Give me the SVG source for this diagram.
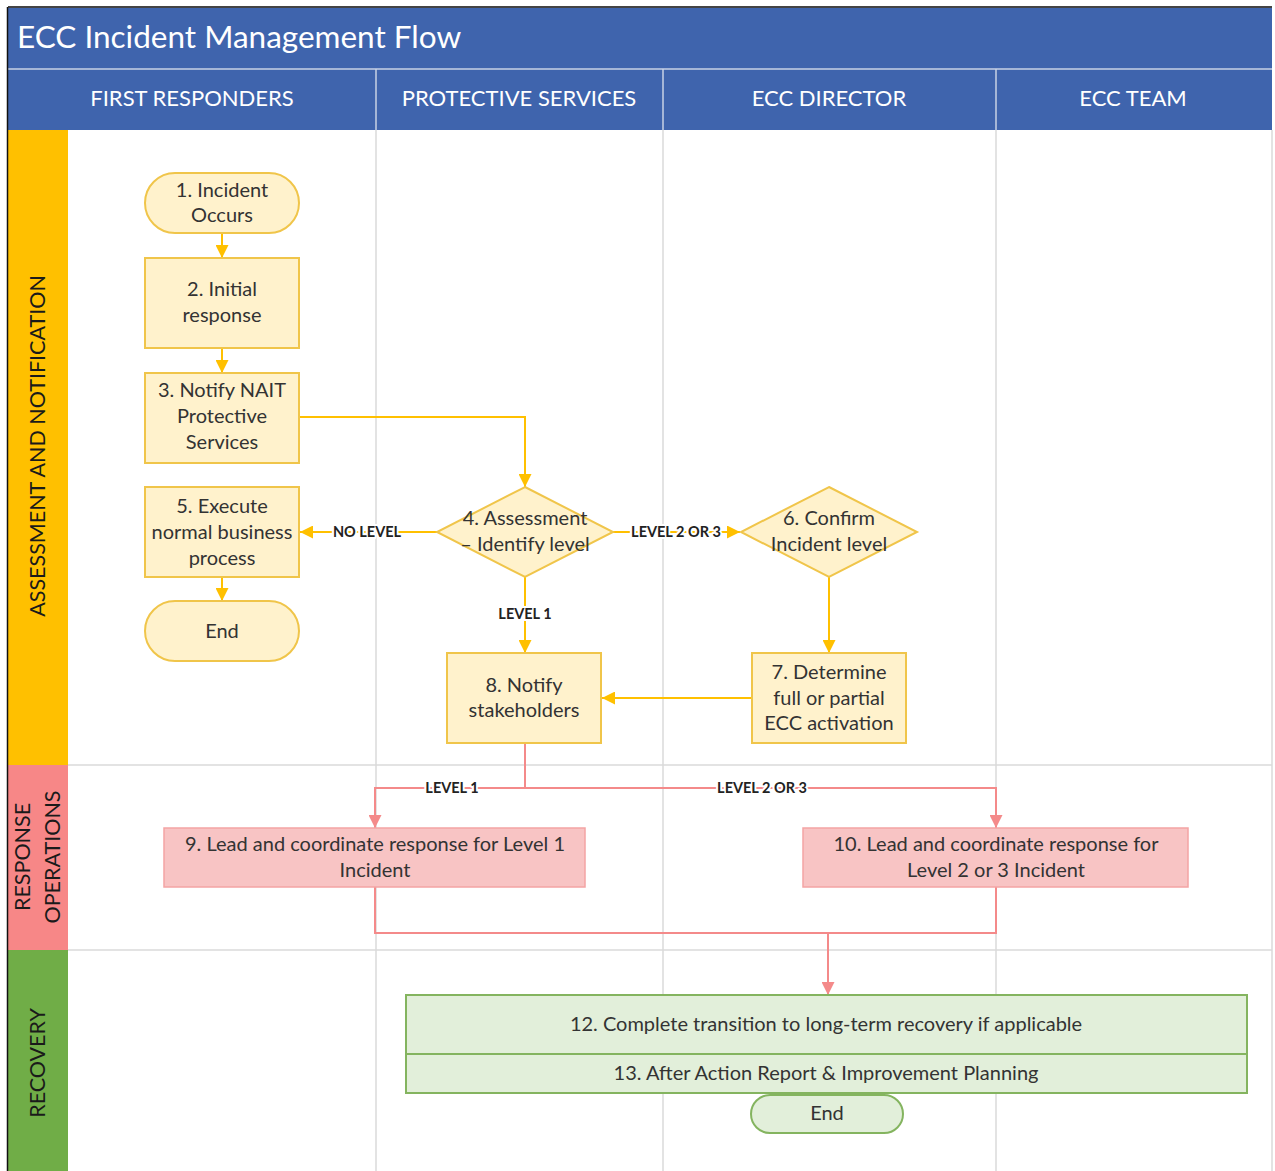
<svg xmlns="http://www.w3.org/2000/svg" width="1275" height="1171" viewBox="0 0 1275 1171">
<style>
  .t{font-family:Lato,"Liberation Sans",sans-serif;font-size:20px;fill:#333;text-anchor:middle}
  .h{font-family:Lato,"Liberation Sans",sans-serif;font-size:22px;fill:#fff;text-anchor:middle}
  .lane{font-family:Lato,"Liberation Sans",sans-serif;font-size:21.5px;fill:#1a1a1a;text-anchor:middle}
  .lbl{font-family:Lato,"Liberation Sans",sans-serif;font-size:14.5px;font-weight:bold;fill:#222;text-anchor:middle;stroke:#fff;stroke-width:4px;paint-order:stroke;stroke-linejoin:round}
  .y{fill:#FFF2CC;stroke:#F0C54A;stroke-width:2}
  .p{fill:#F8C4C4;stroke:#F4A4A4;stroke-width:1.5}
  .g{fill:#E2EFDA;stroke:#84B45F;stroke-width:2}
  .cy{fill:none;stroke:#FFC000;stroke-width:2}
  .cp{fill:none;stroke:#F48A8A;stroke-width:2}
  .grid{stroke:#DADADA;stroke-width:1.5}
</style>
<defs>
  <marker id="ay" viewBox="0 0 10 10" refX="10" refY="5" markerWidth="6.5" markerHeight="6.5" orient="auto" markerUnits="strokeWidth">
    <path d="M0,0 L10,5 L0,10 z" fill="#FFC000"/>
  </marker>
  <marker id="ap" viewBox="0 0 10 10" refX="10" refY="5" markerWidth="6.5" markerHeight="6.5" orient="auto" markerUnits="strokeWidth">
    <path d="M0,0 L10,5 L0,10 z" fill="#F48A8A"/>
  </marker>
</defs>
<rect x="0" y="0" width="1275" height="1171" fill="#fff"/>
<g id="frame">
  <rect x="8" y="7" width="1264" height="62" fill="#3F64AD"/>
  <line x1="8" y1="7" x2="1272" y2="7" stroke="#444" stroke-width="2"/>
  <text x="17" y="48" font-family="Lato,'Liberation Sans',sans-serif" font-size="31.5" fill="#fff">ECC Incident Management Flow</text>
  <rect x="8" y="69" width="1264" height="61" fill="#3F64AD"/>
  <line x1="8" y1="69" x2="1272" y2="69" stroke="#C9D2E6" stroke-width="1.5"/>
  <line x1="376" y1="69" x2="376" y2="130" stroke="#C9D2E6" stroke-width="1.5"/>
  <line x1="663" y1="69" x2="663" y2="130" stroke="#C9D2E6" stroke-width="1.5"/>
  <line x1="996" y1="69" x2="996" y2="130" stroke="#C9D2E6" stroke-width="1.5"/>
  <text class="h" x="192" y="106">FIRST RESPONDERS</text>
  <text class="h" x="519" y="106">PROTECTIVE SERVICES</text>
  <text class="h" x="829" y="106">ECC DIRECTOR</text>
  <text class="h" x="1133" y="106">ECC TEAM</text>
  <line class="grid" x1="376" y1="130" x2="376" y2="1171"/>
  <line class="grid" x1="663" y1="130" x2="663" y2="1171"/>
  <line class="grid" x1="996" y1="130" x2="996" y2="1171"/>
  <line class="grid" x1="1272" y1="130" x2="1272" y2="1171"/>
  <line class="grid" x1="68" y1="765" x2="1272" y2="765"/>
  <line class="grid" x1="68" y1="950" x2="1272" y2="950"/>
  <rect x="8" y="130" width="60" height="635" fill="#FFC000"/>
  <rect x="8" y="765" width="60" height="185" fill="#F78787"/>
  <rect x="8" y="950" width="60" height="221" fill="#70AD47"/>
  <line x1="7.5" y1="7" x2="7.5" y2="1171" stroke="#111" stroke-width="1.5"/>
  <text class="lane" transform="translate(45,446) rotate(-90)">ASSESSMENT AND NOTIFICATION</text>
  <text class="lane" transform="translate(30,857) rotate(-90)">RESPONSE</text>
  <text class="lane" transform="translate(60,857) rotate(-90)">OPERATIONS</text>
  <text class="lane" transform="translate(45,1063) rotate(-90)">RECOVERY</text>
</g>
<g id="connectors">
  <path class="cy" d="M222,233 V258" marker-end="url(#ay)"/>
  <path class="cy" d="M222,348 V373" marker-end="url(#ay)"/>
  <path class="cy" d="M299,417 H525 V487" marker-end="url(#ay)"/>
  <path class="cy" d="M437,532 H300" marker-end="url(#ay)"/>
  <path class="cy" d="M613,532 H740" marker-end="url(#ay)"/>
  <path class="cy" d="M525,577 V653" marker-end="url(#ay)"/>
  <path class="cy" d="M829,577 V653" marker-end="url(#ay)"/>
  <path class="cy" d="M752,698 H602" marker-end="url(#ay)"/>
  <path class="cy" d="M222,577 V601" marker-end="url(#ay)"/>
  <path class="cp" d="M525,743 V788 H375 V828" marker-end="url(#ap)"/>
  <path class="cp" d="M525,788 H996 V828" marker-end="url(#ap)"/>
  <path class="cp" d="M375,887 V933 H996 V887"/>
  <path class="cp" d="M828,933 V995" marker-end="url(#ap)"/>
  <text class="lbl" x="367" y="537">NO LEVEL</text>
  <text class="lbl" x="676" y="537">LEVEL 2 OR 3</text>
  <text class="lbl" x="525" y="619">LEVEL 1</text>
  <text class="lbl" x="452" y="793">LEVEL 1</text>
  <text class="lbl" x="762" y="793">LEVEL 2 OR 3</text>
</g>
<g id="n1"><rect class="y" x="145" y="173" width="154" height="60" rx="30"/><text class="t" x="222" y="197">1. Incident</text><text class="t" x="222" y="222">Occurs</text></g>
<g id="n2"><rect class="y" x="145" y="258" width="154" height="90"/><text class="t" x="222" y="296">2. Initial</text><text class="t" x="222" y="322">response</text></g>
<g id="n3"><rect class="y" x="145" y="373" width="154" height="90"/><text class="t" x="222" y="397">3. Notify NAIT</text><text class="t" x="222" y="423">Protective</text><text class="t" x="222" y="449">Services</text></g>
<g id="n4"><path class="y" d="M525,487 L613,532 L525,577 L437,532 z"/><text class="t" x="525" y="525">4. Assessment</text><text class="t" x="525" y="551">– Identify level</text></g>
<g id="n5"><rect class="y" x="145" y="487" width="154" height="90"/><text class="t" x="222" y="513">5. Execute</text><text class="t" x="222" y="539">normal business</text><text class="t" x="222" y="565">process</text></g>
<g id="end1"><rect class="y" x="145" y="601" width="154" height="60" rx="30"/><text class="t" x="222" y="638">End</text></g>
<g id="n6"><path class="y" d="M829,487 L917,532 L829,577 L741,532 z"/><text class="t" x="829" y="525">6. Confirm</text><text class="t" x="829" y="551">Incident level</text></g>
<g id="n7"><rect class="y" x="752" y="653" width="154" height="90"/><text class="t" x="829" y="679">7. Determine</text><text class="t" x="829" y="705">full or partial</text><text class="t" x="829" y="730">ECC activation</text></g>
<g id="n8"><rect class="y" x="447" y="653" width="154" height="90"/><text class="t" x="524" y="692">8. Notify</text><text class="t" x="524" y="717">stakeholders</text></g>
<g id="n9"><rect class="p" x="164" y="828" width="421" height="59"/><text class="t" x="375" y="851">9. Lead and coordinate response for Level 1</text><text class="t" x="375" y="877">Incident</text></g>
<g id="n10"><rect class="p" x="803" y="828" width="385" height="59"/><text class="t" x="996" y="851">10. Lead and coordinate response for</text><text class="t" x="996" y="877">Level 2 or 3 Incident</text></g>
<g id="n12"><rect class="g" x="406" y="995" width="841" height="59"/><text class="t" x="826" y="1031">12. Complete transition to long-term recovery if applicable</text></g>
<g id="n13"><rect class="g" x="406" y="1054" width="841" height="39"/><text class="t" x="826" y="1080">13. After Action Report &amp; Improvement Planning</text></g>
<g id="end2"><rect class="g" x="751" y="1095" width="152" height="38" rx="19"/><text class="t" x="827" y="1120">End</text></g>
</svg>
